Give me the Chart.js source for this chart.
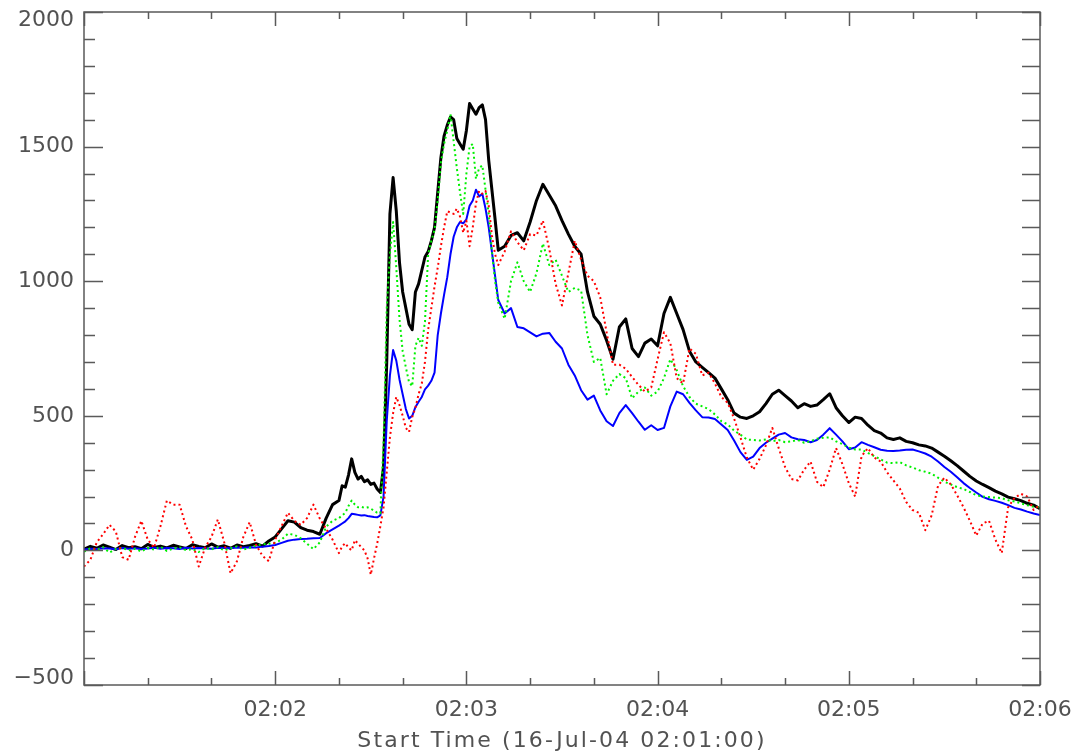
<!DOCTYPE html>
<html>
<head>
<meta charset="utf-8">
<script src="https://cdn.jsdelivr.net/npm/chart.js@4.4.1/dist/chart.umd.min.js"></script>
<style>
  html, body { margin: 0; padding: 0; background: #ffffff; }
  #wrap { width: 1077px; height: 755px; position: relative; }
</style>
</head>
<body>
<div id="wrap"><canvas id="c"></canvas></div>
<script>
// Sample times, seconds after 02:01:00
const times = [
  0,2,4,6,8,10,12,14,16,18,20,22,24,26,28,30,32,34,36,38,40,42,44,46,48,50,52,54,56,58,60,62,64,66,68,70,72,74,76,78,80,
  81,82,83,84,85,86,87,88,89,90,91,92,93,94,95,96,97,98,99,100,101,102,103,104,105,106,107,108,109,110,
  111,112,113,114,115,116,117,118,119,120,121,122,123,124,125,126,127,128,129,130,
  132,134,136,138,140,142,144,146,148,150,152,154,156,158,160,162,164,166,168,170,172,174,176,178,180,
  182,184,186,188,190,192,194,196,198,200,202,204,206,208,210,212,214,216,218,220,222,224,226,228,230,
  232,234,236,238,240,242,244,246,248,250,252,254,256,258,260,262,264,266,268,270,272,274,276,278,280,
  282,284,286,288,290,292,294,296,298,300
];

// Black channel (solid, heavy)
const fluxBlack = [
  5,15,8,20,12,3,18,10,14,6,22,11,16,9,19,13,7,21,15,10,24,12,17,8,20,14,18,25,16,
  35,50,80,110,105,85,75,70,60,120,170,185,
  240,235,280,340,290,265,275,255,262,245,
  250,228,215,310,700,1250,1385,1260,1070,960,
  900,840,820,960,990,1040,1090,1110,1150,1200,
  1330,1460,1540,1580,1610,1600,1530,1510,1490,1560,
  1660,1640,1620,1645,1655,1600,1450,1340,1230,1115,
  1130,1170,1180,1150,1220,1300,1360,1320,1280,1225,
  1175,1130,1100,960,870,840,780,710,830,860,
  750,720,770,785,760,880,940,880,820,740,
  700,680,660,640,600,560,510,495,490,500,
  515,545,580,595,575,555,530,545,535,540,
  560,582,530,500,475,495,490,465,445,436,
  418,412,418,405,400,392,388,380,365,350,
  333,315,295,275,258,245,233,220,210,198,
  192,185,175,168,155
];

// Blue channel (solid)
const fluxBlue = [
  3,6,5,8,7,4,9,6,8,5,7,10,6,9,8,5,10,7,9,8,6,10,9,8,11,10,12,11,14,
  16,20,28,36,40,42,43,45,46,64,78,92,
  100,108,120,136,134,132,130,131,128,126,
  124,123,130,200,480,650,744,705,635,580,
  525,490,500,532,552,570,598,612,630,660,
  800,880,950,1015,1100,1165,1200,1220,1215,1230,
  1280,1300,1340,1315,1325,1270,1200,1110,1020,930,
  880,900,830,825,810,795,805,808,775,750,
  690,650,595,560,575,520,480,462,510,540,
  510,478,448,465,447,455,535,590,580,548,
  520,495,494,488,468,447,408,365,336,348,
  380,400,415,430,436,420,413,410,402,410,
  430,454,430,405,376,382,402,392,383,374,
  370,369,371,374,375,368,360,348,330,310,
  292,272,250,232,215,199,190,184,177,168,
  158,152,144,137,131
];

// Green channel (dotted)
const fluxGreen = [
  -5,8,2,12,-8,5,10,0,6,-4,9,3,14,-2,7,11,1,5,-6,9,4,12,0,8,15,3,10,18,22,
  25,28,40,62,58,45,25,5,30,88,110,120,
  130,140,165,185,170,160,162,158,160,155,
  148,140,138,400,900,1100,1220,1050,860,740,
  680,625,610,760,790,760,850,1100,1150,1190,
  1300,1440,1510,1560,1620,1520,1420,1330,1250,1400,
  1500,1510,1380,1420,1430,1340,1250,1110,1000,920,
  860,1000,1070,1000,960,1030,1140,1060,1080,1020,
  960,975,965,800,700,715,580,630,655,640,
  565,590,605,575,590,640,710,670,610,570,
  545,535,525,505,480,468,445,430,412,410,
  408,412,406,410,402,405,410,400,405,415,
  418,420,405,395,382,375,375,362,350,338,
  326,324,328,316,308,298,292,285,270,255,
  245,235,228,217,205,200,198,196,194,186,
  182,175,168,162,160
];

// Red channel (dotted)
const fluxRed = [
  -60,-35,30,60,95,70,-25,-35,50,110,
  40,10,90,185,170,170,90,40,-60,10,
  50,115,30,-85,-40,50,105,20,-20,-40,
  40,90,140,110,95,120,170,118,80,40,
  -10,
  15,27,10,0,38,25,12,0,-30,-90,
  -30,25,90,160,290,420,510,570,540,500,
  455,440,496,530,580,620,700,820,900,980,
  1050,1130,1200,1260,1255,1250,1270,1240,1180,1225,
  1130,1200,1290,1335,1325,1335,1280,1170,1100,1060,
  1110,1185,1145,1115,1175,1170,1225,1120,990,910,
  1030,1150,1080,1020,1000,940,810,690,690,675,
  644,615,590,605,710,810,770,640,620,750,
  730,650,660,620,570,548,490,420,345,300,
  340,390,455,380,310,265,260,300,330,255,
  235,300,380,320,250,200,350,380,345,330,
  290,260,230,180,150,140,75,130,240,270,
  245,205,160,110,55,100,110,40,-10,160,
  195,210,200,150,170
];

const timeLabels = ['', '02:02', '02:03', '02:04', '02:05', '02:06'];
const xTitle = 'Start Time (16-Jul-04 02:01:00)';

const FONT = "'DejaVu Sans', 'Liberation Sans', sans-serif";
const TEXT_COLOR = '#525252';
const AXIS_COLOR = '#5a5a5a';

function pts(vals) {
  return times.map((t, i) => ({ x: t, y: vals[i] }));
}

function yLabel(v) {
  return v < 0 ? '\u2212' + Math.abs(v) : String(v);
}

// Frame on all four sides with inward major/minor ticks, value labels and the axis title
const frameTicks = {
  id: 'frameTicks',
  afterDatasetsDraw(chart) {
    const { ctx, chartArea: a, scales: { x, y } } = chart;
    ctx.save();
    ctx.strokeStyle = AXIS_COLOR;
    ctx.lineWidth = 1.5;
    ctx.strokeRect(a.left, a.top, a.right - a.left, a.bottom - a.top);
    ctx.beginPath();
    for (let v = y.min; v <= y.max; v += 100) {
      const py = Math.round(y.getPixelForValue(v)) + 0.5;
      const major = v % 500 === 0;
      ctx.moveTo(a.left, py); ctx.lineTo(a.left + (major ? 19 : 11), py);
      ctx.moveTo(a.right, py); ctx.lineTo(a.right - 18, py);
    }
    for (let t = x.min; t <= x.max; t += 20) {
      const px = Math.round(x.getPixelForValue(t)) + 0.5;
      const major = t % 60 === 0;
      const len = major ? 14 : 7;
      ctx.moveTo(px, a.bottom); ctx.lineTo(px, a.bottom - len);
      ctx.moveTo(px, a.top); ctx.lineTo(px, a.top + len);
    }
    ctx.stroke();

    // value labels on the left, kept inside the frame's vertical extent
    ctx.fillStyle = TEXT_COLOR;
    ctx.font = '22px ' + FONT;
    ctx.textAlign = 'right';
    ctx.textBaseline = 'middle';
    y.ticks.forEach((tk) => {
      const py = y.getPixelForValue(tk.value);
      const cy = Math.min(Math.max(py, a.top + 8), a.bottom - 7);
      ctx.fillText(yLabel(tk.value), a.left - 10, cy);
    });

    // axis title, slightly tracked
    ctx.textAlign = 'center';
    ctx.letterSpacing = '2.1px';
    ctx.fillText(xTitle, (a.left + a.right) / 2, x.bottom - 14);
    ctx.restore();
  }
};

new Chart(document.getElementById('c'), {
  type: 'line',
  data: {
    datasets: [
      { data: pts(fluxRed), borderColor: '#ff0000', borderWidth: 2, borderDash: [2, 3], order: 0 },
      { data: pts(fluxGreen), borderColor: '#00f000', borderWidth: 2, borderDash: [2, 3], order: 1 },
      { data: pts(fluxBlue), borderColor: '#0000ff', borderWidth: 2, order: 2 },
      { data: pts(fluxBlack), borderColor: '#000000', borderWidth: 3, order: 3 }
    ]
  },
  options: {
    responsive: true,
    maintainAspectRatio: false,
    animation: false,
    events: [],
    layout: { padding: { top: 12, right: 37, bottom: 0, left: 0 } },
    elements: { point: { radius: 0 }, line: { tension: 0, borderJoinStyle: 'round' } },
    plugins: { legend: { display: false }, tooltip: { enabled: false } },
    scales: {
      x: {
        type: 'linear',
        min: 0,
        max: 300,
        grid: { display: false, drawTicks: false },
        border: { display: false },
        ticks: {
          stepSize: 60,
          autoSkip: false,
          maxRotation: 0,
          padding: 12,
          color: TEXT_COLOR,
          font: { family: FONT, size: 22 },
          callback: (v) => timeLabels[Math.round(v / 60)]
        },
        afterFit(scale) {
          scale.height = 70;
          scale.paddingLeft = 0;
          scale.paddingRight = 0;
        }
      },
      y: {
        min: -500,
        max: 2000,
        grid: { display: false, drawTicks: false },
        border: { display: false },
        ticks: { stepSize: 500, display: false },
        afterFit(scale) {
          scale.width = 84;
          scale.paddingTop = 0;
          scale.paddingBottom = 0;
        }
      }
    }
  },
  plugins: [frameTicks]
});
</script>
</body>
</html>
